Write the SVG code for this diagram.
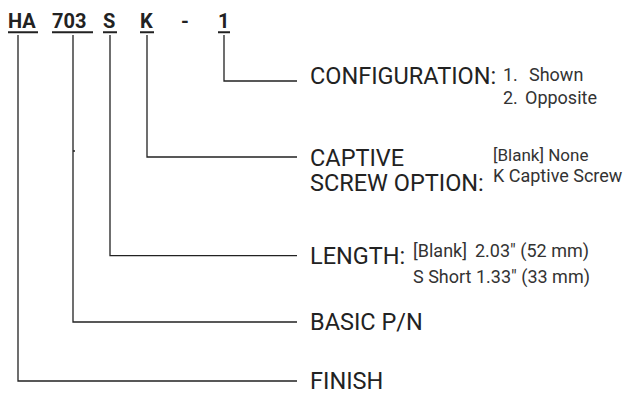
<svg xmlns="http://www.w3.org/2000/svg" width="628" height="394" viewBox="0 0 628 394">
<style>
.pn{font-family:Roboto,"Liberation Sans",sans-serif;font-weight:bold;font-size:20px;fill:#222}
.lbl{font-family:Roboto,"Liberation Sans",sans-serif;font-size:23.5px;fill:#222}
.opt{font-family:Roboto,"Liberation Sans",sans-serif;font-size:18px;fill:#333}
.ln{stroke:#222;stroke-width:1.3;fill:none}
.ul{stroke:#222;stroke-width:2;fill:none}
</style>
<rect width="628" height="394" fill="#fff"/>
<g id="partnumber">
<text class="pn" x="8" y="27.5">HA</text>
<text class="pn" x="52" y="27.5">703</text>
<text class="pn" x="103" y="27.5">S</text>
<text class="pn" x="140" y="27.5">K</text>
<text class="pn" x="181" y="27.5">-</text>
<text class="pn" x="218" y="27.5">1</text>
<path class="ul" d="M8 32.3H38M52 32.3H93M103 32.3H117M140 32.3H154M218 32.3H230"/>
</g>
<g id="connectors">
<path class="ln" d="M224 35V81H297"/>
<path class="ln" d="M147 35V157H297"/>
<path class="ln" d="M110 35V255.7H297"/>
<path class="ln" d="M73 35V322H297"/>
<path class="ln" d="M18 35V381H297"/>
<path class="ln" d="M73 151H75"/>
</g>
<g id="configuration">
<text class="lbl" x="310" y="84">CONFIGURATION:</text>
<text class="opt" y="81"><tspan x="503">1.</tspan><tspan x="529">Shown</tspan></text>
<text class="opt" y="104"><tspan x="503">2.</tspan><tspan x="525">Opposite</tspan></text>
</g>
<g id="captive">
<text class="lbl" x="310" y="166">CAPTIVE</text>
<text class="lbl" x="310" y="191">SCREW OPTION:</text>
<text class="opt" x="493" y="161" style="font-size:17px">[Blank] None</text>
<text class="opt" x="493" y="182">K Captive Screw</text>
</g>
<g id="length">
<text class="lbl" x="310" y="264">LENGTH:</text>
<text class="opt" y="257"><tspan x="413">[Blank]</tspan><tspan x="475">2.03" (52 mm)</tspan></text>
<text class="opt" x="413" y="283">S Short 1.33" (33 mm)</text>
</g>
<g id="basic">
<text class="lbl" x="310" y="330">BASIC P/N</text>
</g>
<g id="finish">
<text class="lbl" x="310" y="389">FINISH</text>
</g>
</svg>
